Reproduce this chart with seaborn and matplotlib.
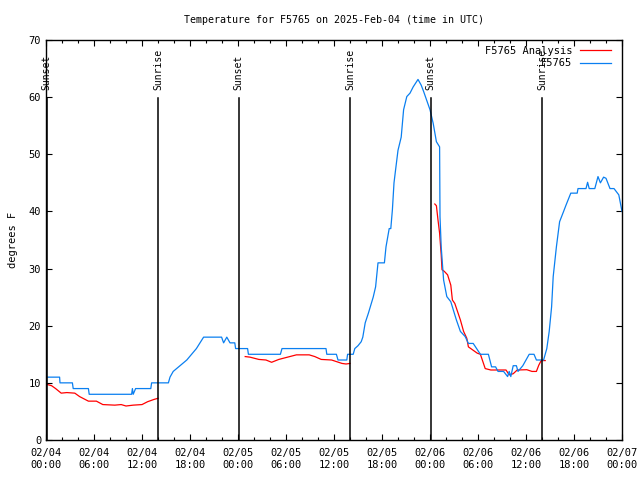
import pandas as pd
import matplotlib
matplotlib.use('Agg')
import matplotlib.pyplot as plt
import matplotlib.dates as mdates
import seaborn as sns


# hours since 2025-02-04 00:00 UTC
obs_hours = [0, 1.7, 1.75, 3.3, 3.4, 5.3, 5.4, 10.7, 10.8, 10.9, 11.2, 13.1, 13.2,
             15.3, 15.5, 15.9, 16.75, 17.6, 18.2, 18.8, 19.25, 19.7, 21.95, 22.2, 22.6,
             23.0, 23.6, 23.7, 25.2, 25.3, 29.3, 29.5, 35.0, 35.1, 36.3, 36.5, 37.6, 37.7,
             38.4, 38.6, 39.0, 39.4, 39.6, 39.9, 40.3, 40.9, 41.2, 41.5, 42.3, 42.5, 42.9,
             43.1, 43.3, 43.5, 43.7, 44.0, 44.4, 44.7, 45.1, 45.5, 45.9, 46.5, 46.9, 47.2,
             48.0, 48.4, 48.8, 49.2, 49.25, 49.4, 49.7, 50.1, 50.6, 51.3, 51.8, 52.4, 52.8,
             53.4, 54.3, 55.3, 55.7, 56.2, 56.5, 57.2, 57.7, 57.9, 58.1, 58.4, 58.8, 59.0,
             59.6, 60.4, 61.0, 61.3, 62.2, 62.4, 62.6, 62.9, 63.2, 63.4, 63.8, 64.2, 64.7,
             65.0, 65.6, 66.4, 66.5, 67.5, 67.7, 67.9, 68.6, 69.0, 69.3, 69.7, 70.0, 70.5,
             71.0, 71.6, 72.0]
obs_temp = [11, 11, 10, 10, 9, 9, 8, 8, 9, 8, 9, 9, 10,
            10, 11, 12, 13, 14, 15, 16, 17, 18, 18, 17, 18,
            17, 17, 16, 16, 15, 15, 16, 16, 15, 15, 14, 14, 15,
            15, 16, 16.5, 17.2, 18, 20.5, 22.2, 25, 26.8, 31, 31, 33.8, 37,
            37, 40.3, 45, 47.3, 50.7, 53, 57.8, 60.1, 60.7, 61.8, 63.1, 62.1, 61,
            57.8, 55.4, 52.2, 51.3, 39.1, 33.8, 28, 25.1, 24.2, 21, 19, 18.1, 16.9,
            16.9, 15, 15, 12.8, 12.8, 12, 12, 11.1, 12, 11.1, 13, 13, 12,
            13, 15, 15, 14, 14, 15, 16, 19, 23.3, 28.6, 33.8, 38.2, 40,
            41.1, 43.2, 43.2, 44, 44, 45.1, 44, 44, 46.1, 45, 46, 45.8, 44,
            44, 42.9, 40]

ana_hours = [0.2, 0.7, 1.2, 1.9, 2.6, 3.6, 4.2, 5.3, 6.3, 7.1, 8.6, 9.4, 10.0, 10.9,
             12.0, 12.7, 13.5, 14.0,
             24.9, 25.5, 26.6, 27.5, 28.2, 29.1, 30.2, 31.3, 32.9, 33.6, 34.4, 35.7,
             37.0, 37.5, 38.0,
             48.6, 48.8, 49.0, 49.2, 49.4, 49.5, 49.8, 50.2, 50.6, 50.8, 51.1, 51.8,
             52.2, 52.6, 52.8, 53.2, 53.9, 54.3, 54.9, 55.6, 57.5, 57.9, 58.4, 58.9,
             60.1, 60.75, 61.3, 61.6, 61.9, 62.4]
ana_temp = [9.7, 9.5, 9.0, 8.2, 8.3, 8.2, 7.6, 6.8, 6.8, 6.2, 6.1, 6.2, 5.95, 6.1,
            6.2, 6.7, 7.1, 7.3,
            14.6, 14.5, 14.1, 14.0, 13.6, 14.1, 14.5, 14.9, 14.9, 14.6, 14.1, 14.0,
            13.4, 13.3, 13.4,
            41.3, 41.0, 38.5, 36.2, 32.4, 29.8, 29.5, 28.9, 27.1, 24.5, 23.9, 21,
            19, 17.8, 16.3, 15.9, 15.2, 15.0, 12.5, 12.25, 12.25, 11.4, 11.6, 12.25,
            12.3, 12.0, 12.0, 13.1, 13.9, 13.9]
ana_segment = [0] * 18 + [1] * 15 + [2] * 30

sun_hours = [0.1, 14.0, 24.1, 38.0, 48.1, 62.0]
sun_labels = ['Sunset', 'Sunrise', 'Sunset', 'Sunrise', 'Sunset', 'Sunrise']

start = pd.Timestamp('2025-02-04 00:00')
obs = pd.DataFrame({'time': start + pd.to_timedelta(obs_hours, unit='h'), 'temp': obs_temp})
ana = pd.DataFrame({'time': start + pd.to_timedelta(ana_hours, unit='h'), 'temp': ana_temp,
                    'seg': ana_segment})
sun_times = start + pd.to_timedelta(sun_hours, unit='h')

plt.rcParams['font.family'] = ['DejaVu Sans Mono']
plt.rcParams['font.size'] = 7

fig = plt.figure(figsize=(6.4, 4.8), dpi=100)
ax = fig.add_axes([46 / 640, 40 / 480, 576 / 640, 400 / 480])

sns.lineplot(data=ana, x='time', y='temp', units='seg', estimator=None, sort=False,
             color='#ff0000', lw=0.9, ax=ax, legend=False)
sns.lineplot(data=obs, x='time', y='temp', estimator=None, sort=False,
             color='#0a7ff0', lw=0.9, ax=ax, legend=False)

for t, lab in zip(sun_times, sun_labels):
    ax.plot([t, t], [0, 59.8], color='black', lw=1.1)
    ax.text(t, 61.2, lab, rotation=90, ha='center', va='bottom', fontsize=7)

ax.set_xlim(start, start + pd.Timedelta(hours=72))
ax.set_ylim(0, 70)
ax.set_yticks(range(0, 71, 10))
ax.xaxis.set_major_locator(mdates.HourLocator(byhour=[0, 6, 12, 18]))
ax.xaxis.set_minor_locator(mdates.HourLocator(interval=2))
ax.xaxis.set_major_formatter(mdates.DateFormatter('%m/%d\n%H:%M'))
ax.tick_params(which='both', direction='in', top=True, right=True, width=0.8, labelsize=7.5)
ax.tick_params(which='major', length=4)
ax.tick_params(which='minor', length=2.5)
ax.tick_params(axis='x', pad=6)
for s in ax.spines.values():
    s.set_linewidth(1)

ax.set_xlabel('')
ax.set_ylabel('degrees F', fontsize=7.5, labelpad=8)
ax.set_title('Temperature for F5765 on 2025-Feb-04 (time in UTC)', fontsize=7.2, pad=12)

ana_line = ax.lines[0]
obs_line = ax.lines[-len(sun_hours) - 1]
ax.legend([ana_line, obs_line], ['F5765 Analysis', 'F5765'], loc='upper right',
          bbox_to_anchor=(1 - 8 / 576, 1 - 3 / 400), frameon=False, markerfirst=False,
          handlelength=3.0, fontsize=7.5, borderaxespad=0, borderpad=0.3,
          labelspacing=0.2, handletextpad=0.7)

fig.savefig('out.png', dpi=100)
